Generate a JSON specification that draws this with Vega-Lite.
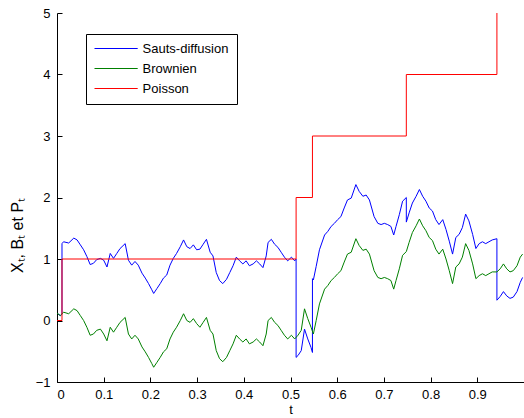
{
  "$schema": "https://vega.github.io/schema/vega-lite/v6.json",
  "width": 467,
  "height": 369,
  "autosize": {"type": "none"},
  "padding": {"left": 57, "top": 13, "right": 0, "bottom": 36},
  "background": "white",
  "config": {
    "view": {"stroke": null},
    "font": "Liberation Sans",
    "axis": {
      "grid": false,
      "domainColor": "black",
      "tickColor": "black",
      "tickSize": -5,
      "labelColor": "black",
      "labelFontSize": 13,
      "labelFont": "Liberation Sans",
      "titleFont": "Liberation Sans",
      "titleFontSize": 13,
      "titleFontWeight": "normal",
      "titleColor": "black"
    }
  },
  "datasets": {
    "paths": [
      {"s":"Sauts-diffusion","t":0,"v":0.12},{"s":"Sauts-diffusion","t":0.007,"v":0.08},{"s":"Sauts-diffusion","t":0.0107,"v":0.10},{"s":"Sauts-diffusion","t":0.0107,"v":1.25},
      {"s":"Sauts-diffusion","t":0.014,"v":1.28},{"s":"Sauts-diffusion","t":0.025,"v":1.26},{"s":"Sauts-diffusion","t":0.036,"v":1.34},{"s":"Sauts-diffusion","t":0.043,"v":1.31},
      {"s":"Sauts-diffusion","t":0.050,"v":1.23},{"s":"Sauts-diffusion","t":0.057,"v":1.15},{"s":"Sauts-diffusion","t":0.064,"v":1.04},{"s":"Sauts-diffusion","t":0.071,"v":0.91},
      {"s":"Sauts-diffusion","t":0.078,"v":0.93},{"s":"Sauts-diffusion","t":0.085,"v":0.99},{"s":"Sauts-diffusion","t":0.093,"v":1.01},{"s":"Sauts-diffusion","t":0.100,"v":0.98},
      {"s":"Sauts-diffusion","t":0.107,"v":0.87},{"s":"Sauts-diffusion","t":0.114,"v":1.09},{"s":"Sauts-diffusion","t":0.121,"v":1.01},{"s":"Sauts-diffusion","t":0.128,"v":1.09},
      {"s":"Sauts-diffusion","t":0.135,"v":1.17},{"s":"Sauts-diffusion","t":0.146,"v":1.25},{"s":"Sauts-diffusion","t":0.153,"v":0.98},{"s":"Sauts-diffusion","t":0.160,"v":0.90},
      {"s":"Sauts-diffusion","t":0.167,"v":0.96},{"s":"Sauts-diffusion","t":0.174,"v":0.90},{"s":"Sauts-diffusion","t":0.182,"v":0.77},{"s":"Sauts-diffusion","t":0.189,"v":0.69},
      {"s":"Sauts-diffusion","t":0.196,"v":0.60},{"s":"Sauts-diffusion","t":0.203,"v":0.50},{"s":"Sauts-diffusion","t":0.207,"v":0.44},{"s":"Sauts-diffusion","t":0.214,"v":0.52},
      {"s":"Sauts-diffusion","t":0.221,"v":0.60},{"s":"Sauts-diffusion","t":0.228,"v":0.69},{"s":"Sauts-diffusion","t":0.235,"v":0.74},{"s":"Sauts-diffusion","t":0.242,"v":0.90},
      {"s":"Sauts-diffusion","t":0.249,"v":1.01},{"s":"Sauts-diffusion","t":0.256,"v":1.09},{"s":"Sauts-diffusion","t":0.264,"v":1.20},{"s":"Sauts-diffusion","t":0.271,"v":1.31},
      {"s":"Sauts-diffusion","t":0.278,"v":1.20},{"s":"Sauts-diffusion","t":0.285,"v":1.17},{"s":"Sauts-diffusion","t":0.292,"v":1.23},{"s":"Sauts-diffusion","t":0.299,"v":1.15},
      {"s":"Sauts-diffusion","t":0.306,"v":1.16},{"s":"Sauts-diffusion","t":0.313,"v":1.24},{"s":"Sauts-diffusion","t":0.320,"v":1.32},{"s":"Sauts-diffusion","t":0.328,"v":1.11},
      {"s":"Sauts-diffusion","t":0.334,"v":1.05},{"s":"Sauts-diffusion","t":0.341,"v":0.78},{"s":"Sauts-diffusion","t":0.348,"v":0.65},{"s":"Sauts-diffusion","t":0.355,"v":0.60},
      {"s":"Sauts-diffusion","t":0.363,"v":0.67},{"s":"Sauts-diffusion","t":0.370,"v":0.78},{"s":"Sauts-diffusion","t":0.377,"v":0.89},{"s":"Sauts-diffusion","t":0.384,"v":1.03},
      {"s":"Sauts-diffusion","t":0.391,"v":0.97},{"s":"Sauts-diffusion","t":0.398,"v":0.92},{"s":"Sauts-diffusion","t":0.405,"v":0.97},{"s":"Sauts-diffusion","t":0.412,"v":0.89},
      {"s":"Sauts-diffusion","t":0.420,"v":0.92},{"s":"Sauts-diffusion","t":0.427,"v":0.97},{"s":"Sauts-diffusion","t":0.434,"v":0.92},{"s":"Sauts-diffusion","t":0.441,"v":0.86},
      {"s":"Sauts-diffusion","t":0.448,"v":1.05},{"s":"Sauts-diffusion","t":0.452,"v":1.27},{"s":"Sauts-diffusion","t":0.459,"v":1.32},{"s":"Sauts-diffusion","t":0.466,"v":1.24},
      {"s":"Sauts-diffusion","t":0.473,"v":1.19},{"s":"Sauts-diffusion","t":0.480,"v":1.11},{"s":"Sauts-diffusion","t":0.487,"v":1.03},{"s":"Sauts-diffusion","t":0.494,"v":0.97},
      {"s":"Sauts-diffusion","t":0.502,"v":1.03},{"s":"Sauts-diffusion","t":0.509,"v":0.97},{"s":"Sauts-diffusion","t":0.512,"v":1.00},{"s":"Sauts-diffusion","t":0.512,"v":-0.60},
      {"s":"Sauts-diffusion","t":0.516,"v":-0.57},{"s":"Sauts-diffusion","t":0.523,"v":-0.49},{"s":"Sauts-diffusion","t":0.530,"v":-0.14},{"s":"Sauts-diffusion","t":0.537,"v":-0.30},
      {"s":"Sauts-diffusion","t":0.544,"v":-0.44},{"s":"Sauts-diffusion","t":0.547,"v":-0.52},{"s":"Sauts-diffusion","t":0.547,"v":0.68},{"s":"Sauts-diffusion","t":0.549,"v":0.66},
      {"s":"Sauts-diffusion","t":0.555,"v":0.88},{"s":"Sauts-diffusion","t":0.562,"v":1.15},{"s":"Sauts-diffusion","t":0.573,"v":1.39},{"s":"Sauts-diffusion","t":0.580,"v":1.45},
      {"s":"Sauts-diffusion","t":0.587,"v":1.53},{"s":"Sauts-diffusion","t":0.594,"v":1.58},{"s":"Sauts-diffusion","t":0.601,"v":1.64},{"s":"Sauts-diffusion","t":0.608,"v":1.69},
      {"s":"Sauts-diffusion","t":0.615,"v":1.83},{"s":"Sauts-diffusion","t":0.622,"v":1.96},{"s":"Sauts-diffusion","t":0.630,"v":1.99},{"s":"Sauts-diffusion","t":0.640,"v":2.21},
      {"s":"Sauts-diffusion","t":0.647,"v":2.10},{"s":"Sauts-diffusion","t":0.655,"v":2.02},{"s":"Sauts-diffusion","t":0.662,"v":2.04},{"s":"Sauts-diffusion","t":0.669,"v":1.96},
      {"s":"Sauts-diffusion","t":0.679,"v":1.69},{"s":"Sauts-diffusion","t":0.687,"v":1.58},{"s":"Sauts-diffusion","t":0.694,"v":1.56},{"s":"Sauts-diffusion","t":0.701,"v":1.58},
      {"s":"Sauts-diffusion","t":0.708,"v":1.56},{"s":"Sauts-diffusion","t":0.715,"v":1.53},{"s":"Sauts-diffusion","t":0.721,"v":1.39},{"s":"Sauts-diffusion","t":0.726,"v":1.53},
      {"s":"Sauts-diffusion","t":0.733,"v":1.72},{"s":"Sauts-diffusion","t":0.740,"v":1.94},{"s":"Sauts-diffusion","t":0.748,"v":2.00},{"s":"Sauts-diffusion","t":0.748,"v":1.60},
      {"s":"Sauts-diffusion","t":0.754,"v":1.75},{"s":"Sauts-diffusion","t":0.761,"v":1.91},{"s":"Sauts-diffusion","t":0.769,"v":2.02},{"s":"Sauts-diffusion","t":0.776,"v":2.13},
      {"s":"Sauts-diffusion","t":0.783,"v":2.02},{"s":"Sauts-diffusion","t":0.790,"v":1.94},{"s":"Sauts-diffusion","t":0.797,"v":1.83},{"s":"Sauts-diffusion","t":0.804,"v":1.78},
      {"s":"Sauts-diffusion","t":0.811,"v":1.64},{"s":"Sauts-diffusion","t":0.818,"v":1.56},{"s":"Sauts-diffusion","t":0.826,"v":1.64},{"s":"Sauts-diffusion","t":0.833,"v":1.48},
      {"s":"Sauts-diffusion","t":0.840,"v":1.29},{"s":"Sauts-diffusion","t":0.847,"v":1.08},{"s":"Sauts-diffusion","t":0.854,"v":1.35},{"s":"Sauts-diffusion","t":0.861,"v":1.40},
      {"s":"Sauts-diffusion","t":0.868,"v":1.51},{"s":"Sauts-diffusion","t":0.875,"v":1.73},{"s":"Sauts-diffusion","t":0.882,"v":1.62},{"s":"Sauts-diffusion","t":0.890,"v":1.40},
      {"s":"Sauts-diffusion","t":0.897,"v":1.17},{"s":"Sauts-diffusion","t":0.904,"v":1.25},{"s":"Sauts-diffusion","t":0.911,"v":1.28},{"s":"Sauts-diffusion","t":0.918,"v":1.25},
      {"s":"Sauts-diffusion","t":0.925,"v":1.28},{"s":"Sauts-diffusion","t":0.932,"v":1.31},{"s":"Sauts-diffusion","t":0.942,"v":1.33},{"s":"Sauts-diffusion","t":0.942,"v":0.33},
      {"s":"Sauts-diffusion","t":0.949,"v":0.39},{"s":"Sauts-diffusion","t":0.956,"v":0.47},{"s":"Sauts-diffusion","t":0.963,"v":0.40},{"s":"Sauts-diffusion","t":0.970,"v":0.36},
      {"s":"Sauts-diffusion","t":0.977,"v":0.38},{"s":"Sauts-diffusion","t":0.985,"v":0.47},{"s":"Sauts-diffusion","t":0.992,"v":0.62},{"s":"Sauts-diffusion","t":0.997,"v":0.70},

      {"s":"Brownien","t":0,"v":0.12},{"s":"Brownien","t":0.007,"v":0.08},{"s":"Brownien","t":0.014,"v":0.135},{"s":"Brownien","t":0.025,"v":0.11},
      {"s":"Brownien","t":0.036,"v":0.19},{"s":"Brownien","t":0.043,"v":0.16},{"s":"Brownien","t":0.050,"v":0.08},{"s":"Brownien","t":0.057,"v":0.00},
      {"s":"Brownien","t":0.064,"v":-0.11},{"s":"Brownien","t":0.071,"v":-0.24},{"s":"Brownien","t":0.078,"v":-0.22},{"s":"Brownien","t":0.085,"v":-0.16},
      {"s":"Brownien","t":0.093,"v":-0.14},{"s":"Brownien","t":0.100,"v":-0.22},{"s":"Brownien","t":0.107,"v":-0.33},{"s":"Brownien","t":0.114,"v":-0.11},
      {"s":"Brownien","t":0.121,"v":-0.19},{"s":"Brownien","t":0.128,"v":-0.11},{"s":"Brownien","t":0.135,"v":-0.03},{"s":"Brownien","t":0.146,"v":0.05},
      {"s":"Brownien","t":0.153,"v":-0.22},{"s":"Brownien","t":0.160,"v":-0.30},{"s":"Brownien","t":0.167,"v":-0.24},{"s":"Brownien","t":0.174,"v":-0.30},
      {"s":"Brownien","t":0.182,"v":-0.43},{"s":"Brownien","t":0.189,"v":-0.51},{"s":"Brownien","t":0.196,"v":-0.60},{"s":"Brownien","t":0.203,"v":-0.70},
      {"s":"Brownien","t":0.207,"v":-0.76},{"s":"Brownien","t":0.214,"v":-0.68},{"s":"Brownien","t":0.221,"v":-0.60},{"s":"Brownien","t":0.228,"v":-0.51},
      {"s":"Brownien","t":0.235,"v":-0.46},{"s":"Brownien","t":0.242,"v":-0.30},{"s":"Brownien","t":0.249,"v":-0.19},{"s":"Brownien","t":0.256,"v":-0.11},
      {"s":"Brownien","t":0.264,"v":0.00},{"s":"Brownien","t":0.271,"v":0.11},{"s":"Brownien","t":0.278,"v":0.00},{"s":"Brownien","t":0.285,"v":-0.03},
      {"s":"Brownien","t":0.292,"v":0.03},{"s":"Brownien","t":0.299,"v":-0.05},{"s":"Brownien","t":0.306,"v":-0.11},{"s":"Brownien","t":0.313,"v":-0.03},
      {"s":"Brownien","t":0.320,"v":0.05},{"s":"Brownien","t":0.328,"v":-0.16},{"s":"Brownien","t":0.334,"v":-0.22},{"s":"Brownien","t":0.341,"v":-0.49},
      {"s":"Brownien","t":0.348,"v":-0.62},{"s":"Brownien","t":0.355,"v":-0.67},{"s":"Brownien","t":0.363,"v":-0.60},{"s":"Brownien","t":0.370,"v":-0.49},
      {"s":"Brownien","t":0.377,"v":-0.38},{"s":"Brownien","t":0.384,"v":-0.24},{"s":"Brownien","t":0.391,"v":-0.30},{"s":"Brownien","t":0.398,"v":-0.35},
      {"s":"Brownien","t":0.405,"v":-0.30},{"s":"Brownien","t":0.412,"v":-0.38},{"s":"Brownien","t":0.420,"v":-0.35},{"s":"Brownien","t":0.427,"v":-0.30},
      {"s":"Brownien","t":0.434,"v":-0.35},{"s":"Brownien","t":0.441,"v":-0.41},{"s":"Brownien","t":0.448,"v":-0.22},{"s":"Brownien","t":0.452,"v":0.00},
      {"s":"Brownien","t":0.459,"v":0.05},{"s":"Brownien","t":0.466,"v":-0.03},{"s":"Brownien","t":0.473,"v":-0.08},{"s":"Brownien","t":0.480,"v":-0.16},
      {"s":"Brownien","t":0.487,"v":-0.24},{"s":"Brownien","t":0.494,"v":-0.30},{"s":"Brownien","t":0.502,"v":-0.24},{"s":"Brownien","t":0.509,"v":-0.30},
      {"s":"Brownien","t":0.516,"v":-0.24},{"s":"Brownien","t":0.523,"v":-0.16},{"s":"Brownien","t":0.530,"v":0.19},{"s":"Brownien","t":0.537,"v":0.03},
      {"s":"Brownien","t":0.544,"v":-0.11},{"s":"Brownien","t":0.549,"v":-0.22},{"s":"Brownien","t":0.555,"v":0.00},{"s":"Brownien","t":0.562,"v":0.27},
      {"s":"Brownien","t":0.573,"v":0.51},{"s":"Brownien","t":0.580,"v":0.57},{"s":"Brownien","t":0.587,"v":0.65},{"s":"Brownien","t":0.594,"v":0.70},
      {"s":"Brownien","t":0.601,"v":0.76},{"s":"Brownien","t":0.608,"v":0.81},{"s":"Brownien","t":0.615,"v":0.95},{"s":"Brownien","t":0.622,"v":1.08},
      {"s":"Brownien","t":0.630,"v":1.11},{"s":"Brownien","t":0.640,"v":1.33},{"s":"Brownien","t":0.647,"v":1.22},{"s":"Brownien","t":0.655,"v":1.14},
      {"s":"Brownien","t":0.662,"v":1.16},{"s":"Brownien","t":0.669,"v":1.08},{"s":"Brownien","t":0.679,"v":0.81},{"s":"Brownien","t":0.687,"v":0.70},
      {"s":"Brownien","t":0.694,"v":0.68},{"s":"Brownien","t":0.701,"v":0.70},{"s":"Brownien","t":0.708,"v":0.68},{"s":"Brownien","t":0.715,"v":0.65},
      {"s":"Brownien","t":0.721,"v":0.51},{"s":"Brownien","t":0.726,"v":0.65},{"s":"Brownien","t":0.733,"v":0.84},{"s":"Brownien","t":0.740,"v":1.06},
      {"s":"Brownien","t":0.748,"v":1.12},{"s":"Brownien","t":0.754,"v":1.27},{"s":"Brownien","t":0.761,"v":1.43},{"s":"Brownien","t":0.769,"v":1.54},
      {"s":"Brownien","t":0.776,"v":1.65},{"s":"Brownien","t":0.783,"v":1.54},{"s":"Brownien","t":0.790,"v":1.46},{"s":"Brownien","t":0.797,"v":1.35},
      {"s":"Brownien","t":0.804,"v":1.30},{"s":"Brownien","t":0.811,"v":1.16},{"s":"Brownien","t":0.818,"v":1.08},{"s":"Brownien","t":0.826,"v":1.16},
      {"s":"Brownien","t":0.833,"v":1.00},{"s":"Brownien","t":0.840,"v":0.81},{"s":"Brownien","t":0.847,"v":0.60},{"s":"Brownien","t":0.854,"v":0.87},
      {"s":"Brownien","t":0.861,"v":0.92},{"s":"Brownien","t":0.868,"v":1.03},{"s":"Brownien","t":0.875,"v":1.25},{"s":"Brownien","t":0.882,"v":1.14},
      {"s":"Brownien","t":0.890,"v":0.92},{"s":"Brownien","t":0.897,"v":0.68},{"s":"Brownien","t":0.904,"v":0.73},{"s":"Brownien","t":0.911,"v":0.76},
      {"s":"Brownien","t":0.918,"v":0.73},{"s":"Brownien","t":0.925,"v":0.76},{"s":"Brownien","t":0.932,"v":0.79},{"s":"Brownien","t":0.942,"v":0.79},
      {"s":"Brownien","t":0.949,"v":0.84},{"s":"Brownien","t":0.956,"v":0.92},{"s":"Brownien","t":0.963,"v":0.84},{"s":"Brownien","t":0.970,"v":0.79},
      {"s":"Brownien","t":0.977,"v":0.81},{"s":"Brownien","t":0.985,"v":0.89},{"s":"Brownien","t":0.992,"v":1.03},{"s":"Brownien","t":0.997,"v":1.08}
    ],
    "poisson": [
      {"s":"Poisson","t":0,"v":0},{"s":"Poisson","t":0.0107,"v":1},{"s":"Poisson","t":0.512,"v":2},
      {"s":"Poisson","t":0.547,"v":3},{"s":"Poisson","t":0.748,"v":4},{"s":"Poisson","t":0.942,"v":5}
    ]
  },
  "layer": [
    {
      "data": {"name": "paths"},
      "mark": {"type": "line", "strokeWidth": 1},
      "encoding": {
        "x": {"field": "t", "type": "quantitative", "scale": {"domain": [0, 1], "nice": false, "zero": false},
              "axis": {"title": "t", "values": [0,0.1,0.2,0.3,0.4,0.5,0.6,0.7,0.8,0.9], "format": "~g", "labelPadding": 11, "titleY": 21}},
        "y": {"field": "v", "type": "quantitative", "scale": {"domain": [-1, 5], "nice": false},
              "axis": {"title": "Xₜ, Bₜ et Pₜ", "titleFontSize": 16, "values": [-1,0,1,2,3,4,5], "format": "d", "labelPadding": 12, "titleX": -32, "titleY": 222}},
        "color": {"field": "s", "type": "nominal",
                  "scale": {"domain": ["Sauts-diffusion", "Brownien", "Poisson"], "range": ["#0000ff", "#008000", "#ff0000"]},
                  "legend": {"title": null, "orient": "none", "legendX": 29, "legendY": 21,
                             "symbolType": "M-3.6,0H3.6", "symbolSize": 144, "symbolStrokeWidth": 1, "symbolOffset": 15.6,
                             "labelFontSize": 13, "labelFont": "Liberation Sans", "labelColor": "black", "labelOffset": 20,
                             "strokeColor": "black", "fillColor": "white", "padding": 8, "rowPadding": 6}},
        "order": {"value": null}
      }
    },
    {
      "data": {"name": "poisson"},
      "mark": {"type": "line", "strokeWidth": 1, "interpolate": "step-after"},
      "encoding": {
        "x": {"field": "t", "type": "quantitative"},
        "y": {"field": "v", "type": "quantitative"},
        "color": {"field": "s", "type": "nominal"},
        "order": {"value": null}
      }
    }
  ]
}
